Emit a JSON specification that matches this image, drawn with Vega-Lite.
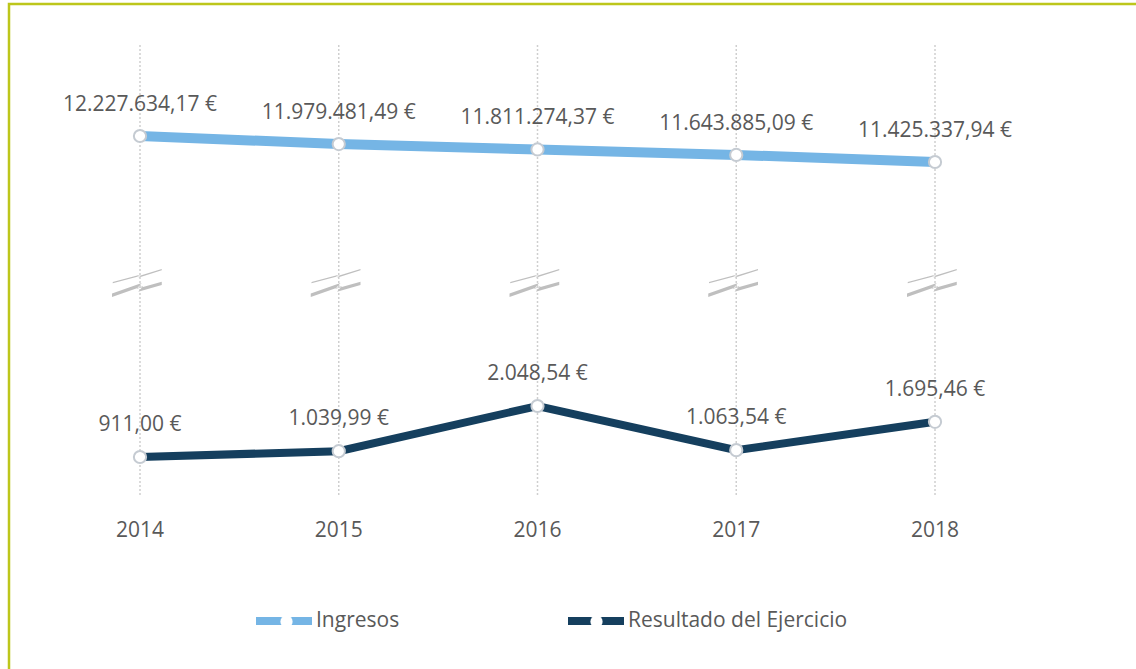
{
  "$schema": "https://vega.github.io/schema/vega-lite/v6.json",
  "width": 1130,
  "height": 668,
  "autosize": "none",
  "padding": {"left": 9, "top": 4, "right": 0, "bottom": 0},
  "background": "white",
  "config": {
    "view": {"stroke": "#BDC61B", "strokeWidth": 2.5},
    "font": "Open Sans",
    "locale": {
      "number": {"decimal": ",", "thousands": ".", "grouping": [3], "currency": ["", " €"]}
    }
  },
  "datasets": {
    "main": [
      {"anio": "2014", "serie": "Ingresos", "valor": 12227634.17},
      {"anio": "2015", "serie": "Ingresos", "valor": 11979481.49},
      {"anio": "2016", "serie": "Ingresos", "valor": 11811274.37},
      {"anio": "2017", "serie": "Ingresos", "valor": 11643885.09},
      {"anio": "2018", "serie": "Ingresos", "valor": 11425337.94},
      {"anio": "2014", "serie": "Resultado del Ejercicio", "valor": 911.00},
      {"anio": "2015", "serie": "Resultado del Ejercicio", "valor": 1039.99},
      {"anio": "2016", "serie": "Resultado del Ejercicio", "valor": 2048.54},
      {"anio": "2017", "serie": "Resultado del Ejercicio", "valor": 1063.54},
      {"anio": "2018", "serie": "Resultado del Ejercicio", "valor": 1695.46}
    ]
  },
  "data": {"name": "main"},
  "encoding": {
    "x": {"field": "anio", "type": "ordinal", "axis": null, "scale": {"type": "point", "range": [131, 926], "padding": 0}}
  },
  "layer": [
    {
      "transform": [{"filter": "datum.serie === 'Ingresos'"}],
      "layer": [
        {
          "mark": {"type": "rule", "stroke": "#CFCFCF", "strokeWidth": 1.5, "strokeDash": [2, 2]},
          "encoding": {
            "y": {"datum": 15035667, "type": "quantitative", "axis": null, "scale": {"domain": [-4311986, 16300824], "nice": false, "zero": false}},
            "y2": {"datum": 1088077}
          }
        },
        {
          "mark": {"type": "point", "filled": true, "fill": "#BFBFBF", "strokeWidth": 0, "opacity": 1, "size": 2500,
            "shape": "M-1.09,0 L0,-0.29 L-0.11,-0.22 L0.87,-0.52 L0.87,-0.47 L-0.07,-0.17 L0.04,-0.25 L-1.09,0.05 Z M-1.12,0.46 L0.07,0.04 L-0.13,0.27 L0.87,-0.01 L0.87,0.12 L-0.07,0.39 L0.13,0.16 L-1.12,0.60 Z"},
          "encoding": {
            "y": {"datum": 7722439, "type": "quantitative"}
          }
        },
        {
          "mark": {"type": "line", "strokeWidth": 10},
          "encoding": {
            "y": {"field": "valor", "type": "quantitative"},
            "color": {"field": "serie", "type": "nominal", "scale": {"range": ["#75B5E5", "#153F5E"]},
              "legend": {"orient": "none", "direction": "horizontal", "legendX": 243, "legendY": 585, "title": null, "zindex": 0,
                "symbolType": "stroke", "symbolSize": 3136, "symbolStrokeWidth": 8, "labelFont": "Open Sans", "labelFontSize": 21,
                "labelColor": "#595959", "labelOffset": 0, "labelLimit": 500, "columnPadding": 152, "padding": 0}}
          }
        },
        {
          "mark": {"type": "point", "filled": true, "fill": "white", "stroke": "#C5CBD2", "strokeWidth": 2, "opacity": 1, "size": 150},
          "encoding": {
            "y": {"field": "valor", "type": "quantitative"},
            "shape": {"field": "serie", "type": "nominal",
              "scale": {"domain": ["Ingresos", "Resultado del Ejercicio"], "range": ["circle", "circle"]},
              "legend": {"orient": "top-left", "offset": 267, "direction": "horizontal", "zindex": 2,
                "title": " ", "titleFontSize": 1, "titlePadding": 339, "titleOrient": "top",
                "symbolSize": 150, "symbolFillColor": "white", "symbolStrokeColor": "#C5CBD2", "symbolStrokeWidth": 2, "symbolOpacity": 1,
                "labelExpr": "''", "labelFontSize": 21, "labelOffset": 137, "columnPadding": 152, "padding": 0}}
          }
        },
        {
          "mark": {"type": "text", "dy": -31, "fontSize": 21, "font": "Open Sans", "color": "#595959"},
          "encoding": {
            "y": {"field": "valor", "type": "quantitative"},
            "text": {"field": "valor", "type": "quantitative", "format": "$,.2f"}
          }
        },
        {
          "mark": {"type": "text", "fontSize": 21, "font": "Open Sans", "color": "#595959", "baseline": "middle"},
          "encoding": {
            "y": {"datum": 38922, "type": "quantitative"},
            "text": {"field": "anio", "type": "nominal"}
          }
        }
      ]
    },
    {
      "transform": [{"filter": "datum.serie === 'Resultado del Ejercicio'"}],
      "layer": [
        {
          "mark": {"type": "line", "strokeWidth": 8},
          "encoding": {
            "y": {"field": "valor", "type": "quantitative", "axis": null, "scale": {"domain": [-3884.6, 11015.2], "nice": false, "zero": false}},
            "color": {"field": "serie", "type": "nominal"}
          }
        },
        {
          "mark": {"type": "point", "filled": true, "fill": "white", "stroke": "#C5CBD2", "strokeWidth": 2, "opacity": 1, "size": 150},
          "encoding": {
            "y": {"field": "valor", "type": "quantitative"},
            "shape": {"field": "serie", "type": "nominal"}
          }
        },
        {
          "mark": {"type": "text", "dy": -32, "fontSize": 21, "font": "Open Sans", "color": "#595959"},
          "encoding": {
            "y": {"field": "valor", "type": "quantitative"},
            "text": {"field": "valor", "type": "quantitative", "format": "$,.2f"}
          }
        }
      ]
    }
  ],
  "resolve": {"scale": {"y": "independent"}}
}
